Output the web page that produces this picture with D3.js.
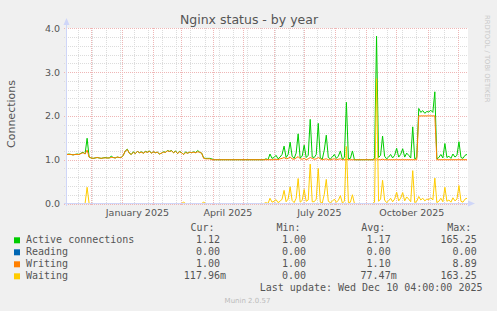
<!DOCTYPE html>
<meta charset="utf-8">
<title>Nginx status - by year</title>
<style>
*{
  margin: 0;
  padding: 0;
}
body{
  background: #f0f0f0;
}
svg{
  display: block;
  font-family: "DejaVu Sans", sans-serif;
}
.mono{
  font-family: "DejaVu Sans Mono", monospace;
  font-size: 10px;
  fill: #555;
}
</style>
<body>
<script src="https://d3js.org/d3.v7.min.js"></script>

<div id="chart"></div>

<script>

// one value every 2 days, from 2024-11-07 to 2025-12-10
var firstDay = new Date(Date.UTC(2024, 10, 7, 4));
var lastDay = new Date(Date.UTC(2025, 11, 10, 4));
var stepDays = 2;

var activeVals = [
  1.12,1.13,1.12,1.11,1.12,1.13,1.12,1.15,1.17,1.13,
  1.49,1.06,1.04,1.03,1.04,1.05,1.04,1.03,1.04,1.05,
  1.04,1.04,1.08,1.05,1.04,1.06,1.05,1.05,1.10,1.20,
  1.24,1.15,1.12,1.18,1.14,1.19,1.16,1.18,1.15,1.19,
  1.17,1.20,1.15,1.18,1.16,1.17,1.13,1.15,1.18,1.17,
  1.21,1.19,1.21,1.16,1.20,1.14,1.19,1.16,1.12,1.18,
  1.15,1.17,1.16,1.18,1.16,1.21,1.17,1.15,1.04,1.03,
  1.03,1.03,1.02,1.00,1.00,1.00,1.00,1.00,1.00,1.00,
  1.00,1.00,1.00,1.00,1.00,1.00,1.00,1.00,1.00,1.00,
  1.00,1.00,1.00,1.00,1.00,1.00,1.00,1.00,1.00,1.02,
  1.00,1.13,1.03,1.05,1.10,1.02,1.06,1.12,1.31,1.05,
  1.12,1.40,1.08,1.03,1.15,1.59,1.04,1.08,1.33,1.05,
  1.10,1.92,1.06,1.05,1.12,1.83,1.04,1.01,1.22,1.56,
  1.05,1.02,1.06,1.12,1.03,1.08,1.20,1.01,1.05,2.31,
  1.02,1.03,1.20,1.00,1.00,1.00,1.00,1.00,1.00,1.00,
  1.00,1.00,1.00,1.03,3.82,1.05,1.10,1.54,1.08,1.02,
  1.06,1.12,1.04,1.10,1.26,1.06,1.12,1.25,1.06,1.15,
  1.10,1.04,1.75,1.02,1.05,2.17,2.08,2.12,2.06,2.10,
  2.09,2.13,2.08,2.55,1.02,1.05,1.12,1.04,1.37,1.05,
  1.08,1.03,1.13,1.06,1.10,1.41,1.05,1.03,1.10,1.12
];

var readingVals = [
  0,0,0,0,0,0,0,0,0,0,0,0,0,0,0,0,0,0,0,0,
  0,0,0,0,0,0,0,0,0,0,0,0,0,0,0,0,0,0,0,0,
  0,0,0,0,0,0,0,0,0,0,0,0,0,0,0,0,0,0,0,0,
  0,0,0,0,0,0,0,0,0,0,0,0,0,0,0,0,0,0,0,0,
  0,0,0,0,0,0,0,0,0,0,0,0,0,0,0,0,0,0,0,0,
  0,0,0,0,0,0,0,0,0,0,0,0,0,0,0,0,0,0,0,0,
  0,0,0,0,0,0,0,0,0,0,0,0,0,0,0,0,0,0,0,0,
  0,0,0,0,0,0,0,0,0,0,0,0,0,0,0,0,0,0,0,0,
  0,0,0,0,0,0,0,0,0,0,0,0,0,0,0,0,0,0,0,0,
  0,0,0,0,0,0,0,0,0,0,0,0,0,0,0,0,0,0,0,0
];

var writingVals = [
  1.12,1.12,1.12,1.11,1.12,1.12,1.12,1.14,1.16,1.13,
  1.22,1.06,1.04,1.03,1.04,1.05,1.04,1.03,1.04,1.04,
  1.04,1.04,1.05,1.05,1.04,1.06,1.05,1.05,1.10,1.20,
  1.23,1.15,1.12,1.17,1.14,1.19,1.16,1.17,1.15,1.18,
  1.17,1.19,1.15,1.18,1.16,1.17,1.13,1.15,1.17,1.17,
  1.20,1.19,1.20,1.16,1.19,1.14,1.18,1.16,1.12,1.16,
  1.15,1.17,1.16,1.17,1.16,1.18,1.17,1.15,1.03,1.02,
  1.02,1.02,1.00,1.00,1.00,1.00,1.00,1.00,1.00,1.00,
  1.00,1.00,1.00,1.00,1.00,1.00,1.00,1.00,1.00,1.00,
  1.00,1.00,1.00,1.00,1.00,1.00,1.00,1.00,1.00,1.00,
  1.00,1.00,1.00,1.00,1.01,1.00,1.02,1.03,1.05,1.02,
  1.03,1.06,1.02,1.01,1.04,1.07,1.02,1.01,1.03,1.00,
  1.02,1.05,1.03,1.01,1.02,1.05,1.02,1.00,1.01,1.02,
  1.00,1.00,1.01,1.02,1.00,1.01,1.02,1.00,1.00,1.01,
  1.00,1.00,1.00,1.00,1.00,1.00,1.00,1.00,1.00,1.00,
  1.00,1.00,1.00,1.00,1.02,1.00,1.00,1.01,1.00,1.00,
  1.00,1.00,1.00,1.00,1.00,1.00,1.00,1.00,1.00,1.00,
  1.00,1.00,1.00,1.00,1.00,2.00,2.00,2.00,2.00,2.00,
  2.00,2.00,2.00,2.00,1.00,1.00,1.00,1.00,1.00,1.00,
  1.00,1.00,1.00,1.00,1.00,1.00,1.00,1.00,1.00,1.00
];

var waitingVals = [
  0,0,0,0,0,0,0,0,0,0,
  0.37,0,0,0,0,0,0,0,0,0,
  0,0,0,0,0,0,0,0,0,0,
  0,0,0,0,0,0,0,0,0,0,
  0,0,0,0,0,0,0,0,0,0,
  0,0,0,0,0,0,0,0,0.03,0,
  0,0,0,0,0,0,0,0,0.03,0,
  0,0,0,0,0,0,0,0,0,0,
  0,0,0,0,0,0,0,0,0,0,
  0,0,0,0,0,0,0,0,0,0.02,
  0,0.12,0.03,0.05,0.09,0.02,0.05,0.10,0.30,0.04,
  0.10,0.38,0.07,0.02,0.12,0.57,0.03,0.07,0.32,0.05,
  0.08,0.90,0.04,0.04,0.10,0.80,0.03,0.01,0.21,0.55,
  0.05,0.02,0.05,0.10,0.03,0.07,0.18,0.01,0.05,1.30,
  0.02,0.03,0.20,0,0,0,0,0,0,0,
  0,0,0,0.03,2.85,0.05,0.10,0.53,0.08,0.02,
  0.06,0.12,0.04,0.10,0.26,0.06,0.12,0.25,0.06,0.15,
  0.10,0.04,0.75,0.02,0.05,0.16,0.08,0.12,0.06,0.10,
  0.09,0.13,0.08,0.58,0.02,0.05,0.12,0.04,0.37,0.05,
  0.08,0.03,0.13,0.06,0.10,0.41,0.05,0.03,0.10,0.12
];

var seriesNames = ["Active connections", "Reading", "Writing", "Waiting"];
var seriesColors = ["#00cc00", "#0066b3", "#ff8000", "#ffcc00"];
var curText = ["1.12", "0.00", "1.00", "117.96m"];
var minText = ["1.00", "0.00", "1.00", "0.00"];
var avgText = ["1.17", "0.00", "1.10", "77.47m"];
var maxText = ["165.25", "0.00", "8.89", "163.25"];

var yTicks = [0, 1, 2, 3, 4];
var xLabels = ["January 2025", "April 2025", "July 2025", "October 2025"];
var xLabelDates = ["2025-01-16T06:00Z", "2025-04-16T06:00Z", "2025-07-16T06:00Z", "2025-10-16T06:00Z"];

var width = 497,
    height = 311;

var svg = d3.select("#chart").append("svg")
    .attr("width", width)
    .attr("height", height);

var x = d3.scaleUtc()
    .domain([firstDay, lastDay])
    .range([67, 467]);

var y = d3.scaleLinear()
    .domain([0, 4])
    .range([203.5, 28.3]);

function crisp(v){ return Math.round(v) + 0.5; }

// canvas
svg.append("rect")
  .attr("x", 67).attr("y", 28)
  .attr("width", 401).attr("height", 176)
  .attr("fill", "#fff");

/* grid */
var grid = svg.append("g").attr("shape-rendering", "crispEdges");
var minorColor = "#dcdcdc",
    majorColor = "#efb6b6";

// minor: every other monday, every 0.2
var minorDays = d3.utcDay.range(new Date(Date.UTC(2024, 10, 18)), lastDay, 14);
var minorVals = d3.range(1, 20).filter(function(i){ return i % 5 != 0; }).map(function(i){ return i / 5; });

grid.selectAll(".vminor").data(minorDays).enter().append("line")
  .attr("x1", function(d){ return crisp(x(d)); })
  .attr("x2", function(d){ return crisp(x(d)); })
  .attr("y1", 28).attr("y2", 206)
  .attr("stroke", minorColor)
  .attr("stroke-dasharray", "1,1");

grid.selectAll(".hminor").data(minorVals).enter().append("line")
  .attr("x1", 64).attr("x2", 468)
  .attr("y1", function(d){ return crisp(y(d)); })
  .attr("y2", function(d){ return crisp(y(d)); })
  .attr("stroke", minorColor)
  .attr("stroke-dasharray", "1,1");

// major: month starts, every 1.0
var months = d3.utcMonth.range(firstDay, lastDay);

grid.selectAll(".vmajor").data(months).enter().append("line")
  .attr("x1", function(d){ return crisp(x(d)); })
  .attr("x2", function(d){ return crisp(x(d)); })
  .attr("y1", 28).attr("y2", 206)
  .attr("stroke", majorColor)
  .attr("stroke-dasharray", "1,1");

grid.selectAll(".hmajor").data(yTicks).enter().append("line")
  .attr("x1", 64).attr("x2", 468)
  .attr("y1", function(d){ return crisp(y(d)); })
  .attr("y2", function(d){ return crisp(y(d)); })
  .attr("stroke", majorColor)
  .attr("stroke-dasharray", "1,1");

/* series */
var dates = activeVals.map(function(d, i){ return d3.utcDay.offset(firstDay, i * stepDays); });

var line = d3.line()
    .x(function(d, i){ return x(dates[i]); })
    .y(function(d){ return y(d); });

[activeVals, readingVals, writingVals, waitingVals].forEach(function(vals, k){
  svg.append("path")
    .datum(vals)
    .attr("d", line)
    .attr("fill", "none")
    .attr("stroke", seriesColors[k])
    .attr("stroke-width", 1);
});

/* axes */
var axisColor = "#cfd6f8";
svg.append("line")
  .attr("x1", 66.5).attr("x2", 66.5)
  .attr("y1", 206).attr("y2", 22)
  .attr("stroke", axisColor);
svg.append("path")
  .attr("d", "M63.5,25 L66.5,18 L69.5,25 Z")
  .attr("fill", axisColor);
svg.append("line")
  .attr("x1", 64).attr("x2", 470)
  .attr("y1", 203.5).attr("y2", 203.5)
  .attr("stroke", axisColor);
svg.append("path")
  .attr("d", "M468,200.5 L475,203.5 L468,206.5 Z")
  .attr("fill", axisColor);

svg.selectAll(".ylab").data(yTicks).enter().append("text")
  .attr("x", 60)
  .attr("y", function(d){ return y(d) + 3.5; })
  .attr("text-anchor", "end")
  .attr("font-size", "9.5px")
  .attr("fill", "#555")
  .text(function(d){ return d3.format(".1f")(d); });

svg.selectAll(".xlab").data(xLabels).enter().append("text")
  .attr("x", function(d, i){ return x(new Date(xLabelDates[i])); })
  .attr("y", 215.5)
  .attr("text-anchor", "middle")
  .attr("font-size", "9.5px")
  .attr("fill", "#555")
  .text(function(d){ return d; });

/* titles */
svg.append("text")
  .attr("x", 249).attr("y", 23.5)
  .attr("text-anchor", "middle")
  .attr("font-size", "12.5px")
  .attr("fill", "#555")
  .text("Nginx status - by year");

svg.append("text")
  .attr("transform", "translate(15,114) rotate(-90)")
  .attr("text-anchor", "middle")
  .attr("font-size", "11px")
  .attr("fill", "#555")
  .text("Connections");

svg.append("text")
  .attr("transform", "translate(485,15) rotate(90)")
  .attr("font-size", "6.8px")
  .attr("fill", "#c8c8c8")
  .text("RRDTOOL / TOBI OETIKER");

/* legend */
var charW = 6.02;
var colEnds = [226, 312, 396.7, 482.7];
var headers = ["Cur:", "Min:", "Avg:", "Max:"];
var cols = [curText, minText, avgText, maxText];

headers.forEach(function(h, c){
  svg.append("text").attr("class", "mono")
    .attr("x", colEnds[c] - 2 * charW + 0.7).attr("y", 231.3)
    .attr("text-anchor", "end")
    .text(h);
});

seriesNames.forEach(function(name, r){
  var by = 243.3 + r * 12;
  svg.append("rect")
    .attr("x", 14).attr("y", by - 6)
    .attr("width", 6).attr("height", 6)
    .attr("fill", seriesColors[r]);
  svg.append("text").attr("class", "mono")
    .attr("x", 26).attr("y", by)
    .text(name);
  cols.forEach(function(col, c){
    var v = col[r];
    var hasUnit = /[a-zA-Z]$/.test(v);
    svg.append("text").attr("class", "mono")
      .attr("x", colEnds[c] - (hasUnit ? 0 : charW))
      .attr("y", by)
      .attr("text-anchor", "end")
      .text(v);
  });
});

svg.append("text").attr("class", "mono")
  .attr("x", 482.5).attr("y", 291.3)
  .attr("text-anchor", "end")
  .text("Last update: Wed Dec 10 04:00:00 2025");

svg.append("text")
  .attr("x", 247.5).attr("y", 303)
  .attr("text-anchor", "middle")
  .attr("font-size", "7px")
  .attr("fill", "#bbb")
  .text("Munin 2.0.57");

</script>
</body>
</html>
